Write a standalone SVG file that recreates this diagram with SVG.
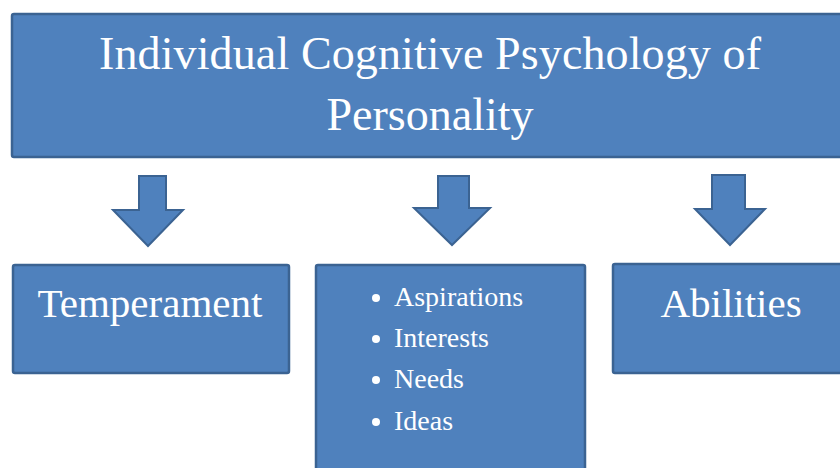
<svg xmlns="http://www.w3.org/2000/svg" width="840" height="468" viewBox="0 0 840 468">
<style>
.box{fill:#4F81BD;stroke:#3B6392;stroke-width:2.5}
.arr{fill:#4F81BD;stroke:#3B6392;stroke-width:2;stroke-linejoin:miter}
text{font-family:'Liberation Serif','Times New Roman',Times,serif;fill:#FFFFFF}
</style>
<rect width="840" height="468" fill="#FFFFFF"/>
<g id="top">
<rect class="box" x="12" y="14" width="840" height="143" rx="2"/>
<text x="430" y="69" font-size="46" font-family="Liberation Serif, serif" text-anchor="middle" textLength="662">Individual Cognitive Psychology of</text>
<text x="430" y="130" font-size="46" font-family="Liberation Serif, serif" text-anchor="middle">Personality</text>
</g>
<g id="connectors">
<path class="arr" d="M139,176 H166 V210 H183 L148,246 L113,210 H139 Z"/>
<path class="arr" d="M438,176 H469 V208 H490 L452,245 L414,208 H438 Z"/>
<path class="arr" d="M712,175 H745 V209 H765 L730,245 L695,209 H712 Z"/>
</g>
<g id="temperament">
<rect class="box" x="13" y="265" width="276" height="108" rx="2"/>
<text x="150" y="317" font-size="41" font-family="Liberation Serif, serif" text-anchor="middle">Temperament</text>
</g>
<g id="list">
<rect class="box" x="316" y="265" width="269" height="220" rx="2"/>
<g font-size="28">
<circle cx="376" cy="298" r="4" fill="#FFFFFF"/>
<text x="394" y="306" font-family="Liberation Serif, serif">Aspirations</text>
<circle cx="376" cy="339" r="4" fill="#FFFFFF"/>
<text x="394" y="347" font-family="Liberation Serif, serif">Interests</text>
<circle cx="376" cy="380" r="4" fill="#FFFFFF"/>
<text x="394" y="388" font-family="Liberation Serif, serif">Needs</text>
<circle cx="376" cy="422" r="4" fill="#FFFFFF"/>
<text x="394" y="430" font-family="Liberation Serif, serif">Ideas</text>
</g>
</g>
<g id="abilities">
<rect class="box" x="613" y="264" width="240" height="109" rx="2"/>
<text x="731" y="317" font-size="41" font-family="Liberation Serif, serif" text-anchor="middle">Abilities</text>
</g>
</svg>
